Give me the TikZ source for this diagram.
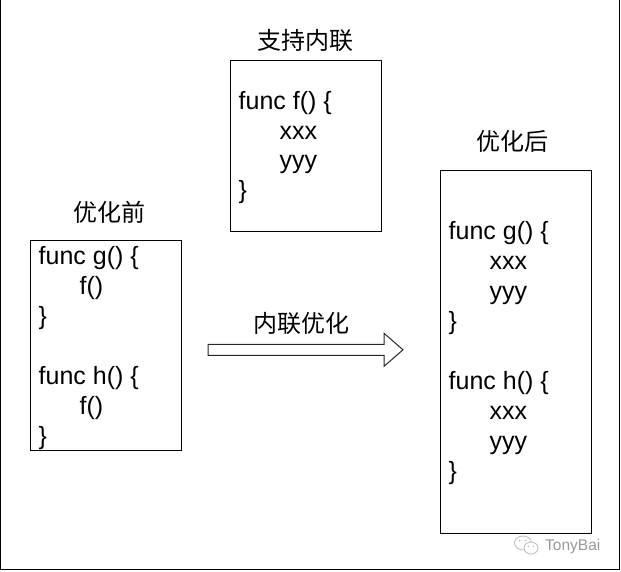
\documentclass[tikz,border=0pt]{standalone}
\usepackage{fontspec}
\setmainfont{Liberation Sans}
\newfontfamily\cjkfont{Noto Sans CJK SC}
\usetikzlibrary{calc}
\begin{document}
\begin{tikzpicture}[x=1pt,y=-1pt,
  codebox/.style={draw=black, line width=1pt, inner sep=0pt, anchor=north west},
  code/.style={anchor=base west, inner sep=0pt, font=\fontsize{25}{30}\selectfont},
  title/.style={anchor=base, inner sep=0pt, font=\cjkfont\fontsize{24}{28}\selectfont},
  blockarrow/.style={draw=black!85, line width=1pt, fill=white, line join=miter},
  wmline/.style={draw=black!25, line width=0.9pt},
]
\useasboundingbox (0,0) rectangle (621,571);
% outer frame
\draw[line width=1.3pt] (0.6,0) -- (0.6,569.6) -- (619.6,569.6) -- (619.6,0);

% boxes
\node[codebox, minimum width=150.5pt, minimum height=170.5pt] (fbox) at (230,60) {};
\node[codebox, minimum width=150.5pt, minimum height=210pt] (before) at (30.3,240) {};
\node[codebox, minimum width=150.5pt, minimum height=363pt] (after) at (440,170) {};

% titles
\node[title] (tf) at (305.5,49) {支持内联};
\node[title] (tb) at (109,221.5) {优化前};
\node[title] (ta) at (512.5,150) {优化后};
\node[title] (tarrow) at (301,332) {内联优化};

% code of f
\node[code] (f1) at (238.5,109.5) {func f() \{};
\node[code] (f2) at (279.5,139) {xxx};
\node[code] (f3) at (279.5,168.5) {yyy};
\node[code] (f4) at (238.5,198) {\}};

% code before
\node[code] (b1) at (38.5,264) {func g() \{};
\node[code] (b2) at (79.5,294) {f()};
\node[code] (b3) at (38.5,324) {\}};
\node[code] (b4) at (38.5,384) {func h() \{};
\node[code] (b5) at (79.5,414) {f()};
\node[code] (b6) at (38.5,444) {\}};

% code after
\node[code] (a1) at (448.5,239.5) {func g() \{};
\node[code] (a2) at (489.5,269.5) {xxx};
\node[code] (a3) at (489.5,299.5) {yyy};
\node[code] (a4) at (448.5,329.5) {\}};
\node[code] (a5) at (448.5,389.5) {func h() \{};
\node[code] (a6) at (489.5,419.5) {xxx};
\node[code] (a7) at (489.5,449.5) {yyy};
\node[code] (a8) at (448.5,479.5) {\}};

% block arrow
\coordinate (arrtail) at (208,349.8);
\coordinate (arrtip) at (403,349.8);
\coordinate (arrneck) at (384,349.8);
\draw[blockarrow] ($(arrtail)+(0,-5.5)$) -- ($(arrneck)+(0,-5.5)$) -- ($(arrneck)+(0,-16.5)$)
  -- (arrtip) -- ($(arrneck)+(0,16.5)$) -- ($(arrneck)+(0,5.5)$) -- ($(arrtail)+(0,5.5)$) -- cycle;

% watermark
\coordinate (wx) at (523,543);
\draw[wmline] (wx) ellipse [x radius=8.5pt, y radius=7pt];
\draw[wmline, fill=white] ($(wx)+(8,5)$) ellipse [x radius=7pt, y radius=6pt];
\fill[black!25] ($(wx)+(-3.5,-2.5)$) circle (1pt) ($(wx)+(2.5,-2.5)$) circle (1pt);
\fill[black!25] ($(wx)+(5.5,3.5)$) circle (0.8pt) ($(wx)+(10.5,3.5)$) circle (0.8pt);
\node[anchor=base west, inner sep=0pt, text=black!40, font=\fontsize{15.5}{18}\selectfont] (wm) at (545,550) {TonyBai};
\end{tikzpicture}
\end{document}
